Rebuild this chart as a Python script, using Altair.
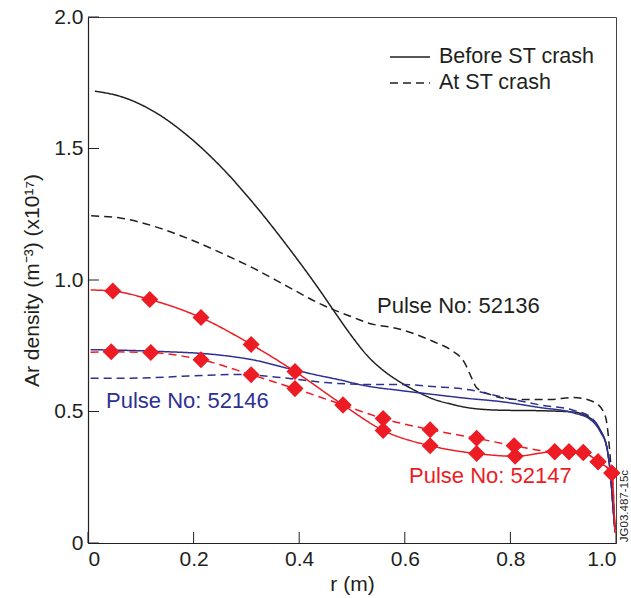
import altair as alt
import pandas as pd

# ---- data ----
# Pulse 52136 (black)
b_before_r = [0.013, 0.063, 0.127, 0.189, 0.252, 0.316, 0.379, 0.441, 0.47, 0.5, 0.53, 0.56, 0.591, 0.623, 0.653, 0.69, 0.718, 0.78, 0.856, 0.919, 0.951, 0.97, 0.983, 0.99, 0.995, 0.998]
b_before_n = [1.718, 1.697, 1.638, 1.548, 1.43, 1.285, 1.125, 0.955, 0.87, 0.785, 0.71, 0.655, 0.612, 0.576, 0.548, 0.527, 0.515, 0.505, 0.503, 0.498, 0.475, 0.43, 0.36, 0.25, 0.12, 0.05]
b_at_r = [0.006, 0.063, 0.127, 0.189, 0.252, 0.316, 0.379, 0.441, 0.506, 0.528, 0.591, 0.653, 0.691, 0.712, 0.727, 0.736, 0.761, 0.812, 0.875, 0.919, 0.956, 0.976, 0.983, 0.99, 0.995, 0.998]
b_at_n = [1.244, 1.235, 1.203, 1.158, 1.103, 1.042, 0.974, 0.908, 0.855, 0.838, 0.813, 0.767, 0.729, 0.69, 0.626, 0.59, 0.565, 0.546, 0.546, 0.553, 0.538, 0.5, 0.45, 0.3, 0.15, 0.06]

# Pulse 52146 (blue)
u_before_r = [0.005, 0.127, 0.252, 0.316, 0.379, 0.43, 0.473, 0.528, 0.591, 0.653, 0.718, 0.78, 0.856, 0.919, 0.951, 0.97, 0.983, 0.99, 0.995, 0.998]
u_before_n = [0.735, 0.729, 0.714, 0.695, 0.664, 0.64, 0.622, 0.597, 0.58, 0.565, 0.55, 0.538, 0.515, 0.495, 0.47, 0.424, 0.36, 0.25, 0.12, 0.05]
u_at_r = [0.005, 0.095, 0.19, 0.284, 0.379, 0.45, 0.528, 0.591, 0.653, 0.718, 0.78, 0.856, 0.919, 0.951, 0.97, 0.983, 0.99, 0.995, 0.998]
u_at_n = [0.626, 0.627, 0.635, 0.641, 0.626, 0.61, 0.603, 0.603, 0.595, 0.584, 0.557, 0.525, 0.505, 0.48, 0.43, 0.36, 0.25, 0.12, 0.05]

# Pulse 52147 (red) measured points
r_before_r = [0.047, 0.117, 0.214, 0.309, 0.392, 0.483, 0.559, 0.648, 0.736, 0.809, 0.884, 0.911, 0.938, 0.966, 0.992]
r_before_n = [0.958, 0.926, 0.857, 0.755, 0.652, 0.525, 0.428, 0.37, 0.34, 0.33, 0.347, 0.347, 0.344, 0.309, 0.266]
r_at_r = [0.044, 0.119, 0.214, 0.309, 0.392, 0.483, 0.559, 0.648, 0.736, 0.807, 0.884, 0.911, 0.938, 0.966, 0.992]
r_at_n = [0.727, 0.724, 0.697, 0.64, 0.587, 0.525, 0.473, 0.431, 0.398, 0.37, 0.347, 0.347, 0.344, 0.309, 0.266]
# fitted-curve end points of the red profiles
r_before_ends_r = [0.005, 0.998]
r_before_ends_n = [0.962, 0.04]
r_at_ends_r = [0.005, 0.998]
r_at_ends_n = [0.725, 0.04]

pulses = ["52136", "52146", "52147"]
phases = ["Before ST crash", "At ST crash"]
x_ticks = [0, 0.2, 0.4, 0.6, 0.8, 1.0]
y_ticks = [0, 0.5, 1.0, 1.5, 2.0]

# ---- tables ----
rows = []
def add(p, ph, xs, ys):
    for a, b in zip(xs, ys):
        rows.append({"pulse": p, "phase": ph, "r": a, "n": b})

add("52136", phases[0], b_before_r, b_before_n)
add("52136", phases[1], b_at_r, b_at_n)
add("52146", phases[0], u_before_r, u_before_n)
add("52146", phases[1], u_at_r, u_at_n)
add("52147", phases[0], r_before_r + r_before_ends_r, r_before_n + r_before_ends_n)
add("52147", phases[1], r_at_r + r_at_ends_r, r_at_n + r_at_ends_n)
lines = pd.DataFrame(rows)

pts = pd.DataFrame({"r": r_before_r + r_at_r, "n": r_before_n + r_at_n})
xt = pd.DataFrame({"t": x_ticks})
yt = pd.DataFrame({"t": y_ticks})

BLACK = "#231F20"
BLUE = "#2E3192"
RED = "#ED1C24"
FONT = "Liberation Sans"
W, H = 528, 526
DASH = [8, 5]

lbl = "datum.value == 0 ? '0' : format(datum.value, '.1f')"
xscale = alt.Scale(domain=[0, 1], nice=False, zero=False)
yscale = alt.Scale(domain=[0, 2], nice=False)

x_enc = alt.X("r:Q", scale=xscale,
              axis=alt.Axis(values=x_ticks, labelExpr=lbl, title="r (m)",
                            labelPadding=5, titlePadding=4))
y_enc = alt.Y("n:Q", scale=yscale,
              axis=alt.Axis(values=y_ticks, labelExpr=lbl,
                            title="Ar density (m⁻³) (x10¹⁷)",
                            labelPadding=5, titlePadding=11))

line_layer = alt.Chart(lines).mark_line(strokeWidth=1.5, interpolate="monotone").encode(
    x=x_enc, y=y_enc,
    color=alt.Color("pulse:N", scale=alt.Scale(domain=pulses, range=[BLACK, BLUE, RED]), legend=None),
    strokeDash=alt.StrokeDash("phase:N", scale=alt.Scale(domain=phases, range=[[1, 0], DASH]), legend=None),
)

pt_layer = alt.Chart(pts).mark_point(shape="diamond", filled=True, size=290, color=RED, opacity=1).encode(
    x="r:Q", y="n:Q")

xtick_layer = alt.Chart(xt).mark_rule(color=BLACK, strokeWidth=1).encode(
    x="t:Q", y=alt.value(H), y2=alt.value(H - 11))
ytick_layer = alt.Chart(yt).mark_rule(color=BLACK, strokeWidth=1).encode(
    y="t:Q", x=alt.value(0), x2=alt.value(11))

def label(txt, px, py, col, size=22, angle=0, align="left"):
    return alt.Chart(pd.DataFrame({"s": [txt]})).mark_text(
        font=FONT, fontSize=size, color=col, align=align, baseline="middle", angle=angle
    ).encode(text="s:N", x=alt.value(px), y=alt.value(py))

def key(py, dash):
    m = alt.Chart(pd.DataFrame({"k": [0]})).mark_rule(color=BLACK, strokeWidth=1.5, strokeDash=dash)
    return m.encode(x=alt.value(302), x2=alt.value(342), y=alt.value(py))

legend_layers = [
    key(40, [1, 0]), label(phases[0], 351, 40, BLACK, size=21.5),
    key(66, DASH), label(phases[1], 351, 66, BLACK, size=21.5),
]

texts = [
    label("Pulse No: 52136", 289, 289, BLACK),
    label("Pulse No: 52146", 18, 384, BLUE),
    label("Pulse No: 52147", 321, 459, RED),
    label("JG03.487-15c", 537, 489, BLACK, size=11.5, angle=270, align="center"),
]

chart = alt.layer(line_layer, pt_layer, xtick_layer, ytick_layer, *legend_layers, *texts).properties(
    width=W, height=H,
    autosize=alt.AutoSizeParams(type="none"),
    padding={"left": 88, "top": 17, "right": 15, "bottom": 55},
).configure_view(stroke="#444444", strokeWidth=1).configure_axis(
    grid=False, ticks=False, domainColor=BLACK, domainWidth=1.2,
    labelFont=FONT, labelFontSize=21, labelColor=BLACK,
    titleFont=FONT, titleFontSize=21, titleFontWeight="normal", titleColor=BLACK,
)

chart.save("out.html", embed_options={"renderer": "svg", "actions": False})
